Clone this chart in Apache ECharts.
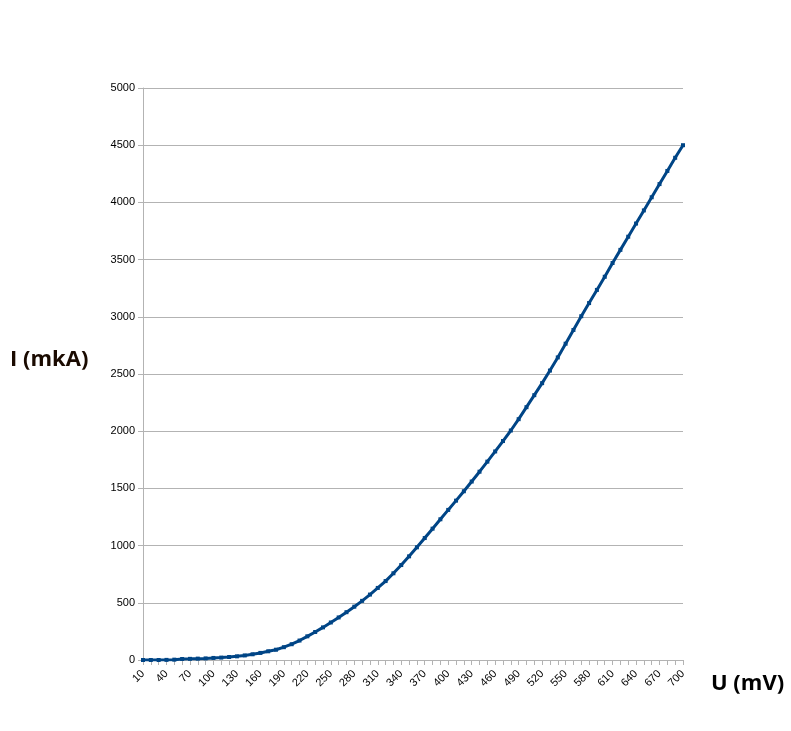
<!DOCTYPE html>
<html><head><meta charset="utf-8">
<script src="https://cdn.jsdelivr.net/npm/echarts@6/dist/echarts.min.js"></script>
<style>html,body{margin:0;padding:0;background:#fff}#c{width:791px;height:731px}</style>
</head><body><div id="c"></div>
<script>
// U (mV) categories, step 10 mV
const voltages = [10,20,30,40,50,60,70,80,90,100,110,120,130,140,150,160,170,180,190,200,
  210,220,230,240,250,260,270,280,290,300,310,320,330,340,350,360,370,380,390,400,
  410,420,430,440,450,460,470,480,490,500,510,520,530,540,550,560,570,580,590,600,
  610,620,630,640,650,660,670,680,690,700];
// I (mkA)
const currents = [0,0,0,1,3,9,10,12,14,18,21,26,32,40,50,62,76,90,112,138,
  170,207,245,285,328,372,418,466,517,572,630,690,758,830,906,985,1066,1148,1230,1312,
  1393,1475,1560,1646,1734,1823,1914,2006,2105,2210,2315,2420,2530,2645,2765,2885,3005,3120,3235,3350,
  3470,3585,3700,3815,3930,4045,4160,4275,4390,4500];
const yTicks = {min:0, max:5000, interval:500};

const chart = echarts.init(document.getElementById('c'), null, {renderer:'canvas'});
const gray = '#b3b3b3';
chart.setOption({
  animation:false,
  backgroundColor:'#fff',
  grid:{left:143, right:108, top:88, bottom:71, containLabel:false},
  xAxis:{
    type:'category', data:voltages.map(String), boundaryGap:false,
    axisLine:{lineStyle:{color:gray, width:1}},
    axisTick:{show:true, interval:0, length:5, lineStyle:{color:gray}},
    axisLabel:{interval:2, rotate:45, color:'#000', fontSize:11, fontFamily:'Liberation Sans', margin:12},
    splitLine:{show:false}
  },
  yAxis:{
    type:'value', min:yTicks.min, max:yTicks.max, interval:yTicks.interval,
    axisLine:{show:true, lineStyle:{color:gray}},
    axisTick:{show:true, length:5, lineStyle:{color:gray}},
    axisLabel:{color:'#000', fontSize:11, fontFamily:'Liberation Sans', margin:8, formatter:(v)=>String(v)},
    splitLine:{show:true, lineStyle:{color:gray, width:1}}
  },
  series:[{
    type:'line', data:currents,
    symbol:'rect', symbolSize:4, showAllSymbol:true,
    itemStyle:{color:'#004586'},
    lineStyle:{color:'#004586', width:3},
    z:3
  }],
  graphic:[
    {type:'text', left:10, top:349, style:{text:'I (mkA)', fontSize:22, fontWeight:'bold', fontFamily:'Open Sans', fill:'#1a0a00'}},
    {type:'text', left:711, top:673, style:{text:'U (mV)', fontSize:22, fontWeight:'bold', fontFamily:'Open Sans', fill:'#000'}}
  ]
});
</script></body></html>
